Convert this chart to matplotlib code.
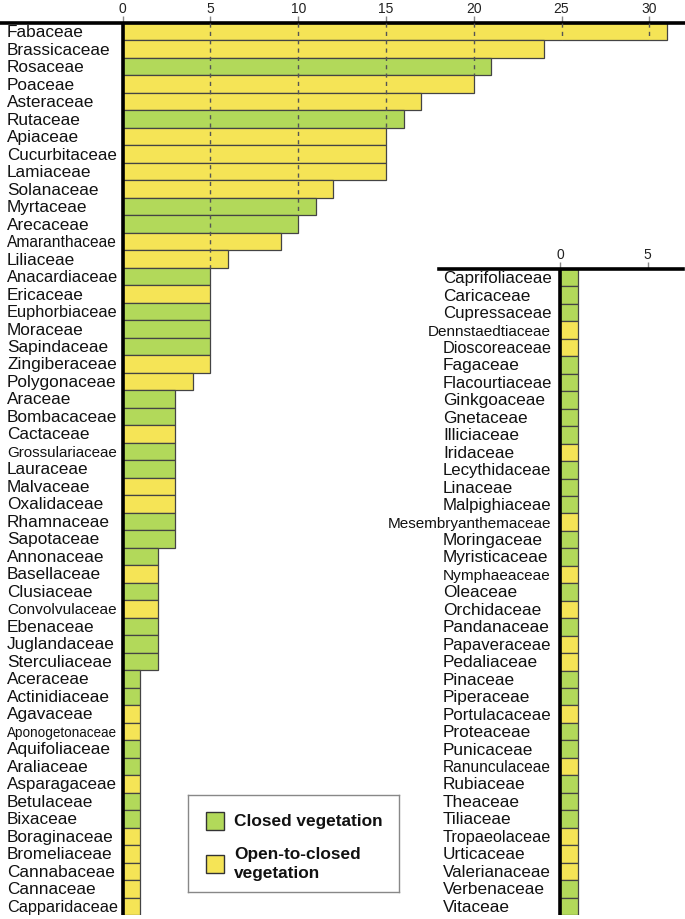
import matplotlib
matplotlib.use("Agg")
import matplotlib.pyplot as plt
from matplotlib.patches import Rectangle

plt.rcParams['font.family'] = ['Liberation Sans', 'DejaVu Sans']

# ---------------- data ----------------
left_families = [
    "Fabaceae", "Brassicaceae", "Rosaceae", "Poaceae", "Asteraceae", "Rutaceae",
    "Apiaceae", "Cucurbitaceae", "Lamiaceae", "Solanaceae", "Myrtaceae", "Arecaceae",
    "Amaranthaceae", "Liliaceae", "Anacardiaceae", "Ericaceae", "Euphorbiaceae",
    "Moraceae", "Sapindaceae", "Zingiberaceae", "Polygonaceae", "Araceae",
    "Bombacaceae", "Cactaceae", "Grossulariaceae", "Lauraceae", "Malvaceae",
    "Oxalidaceae", "Rhamnaceae", "Sapotaceae", "Annonaceae", "Basellaceae",
    "Clusiaceae", "Convolvulaceae", "Ebenaceae", "Juglandaceae", "Sterculiaceae",
    "Aceraceae", "Actinidiaceae", "Agavaceae", "Aponogetonaceae", "Aquifoliaceae",
    "Araliaceae", "Asparagaceae", "Betulaceae", "Bixaceae", "Boraginaceae",
    "Bromeliaceae", "Cannabaceae", "Cannaceae", "Capparidaceae",
]
left_counts = [
    31, 24, 21, 20, 17, 16, 15, 15, 15, 12, 11, 10, 9, 6,
    5, 5, 5, 5, 5, 5, 4,
    3, 3, 3, 3, 3, 3, 3, 3, 3,
    2, 2, 2, 2, 2, 2, 2,
    1, 1, 1, 1, 1, 1, 1, 1, 1, 1, 1, 1, 1, 1,
]
# C = closed vegetation, O = open-to-closed vegetation
left_types = [
    "O", "O", "C", "O", "O", "C", "O", "O", "O", "O", "C", "C", "O", "O",
    "C", "O", "C", "C", "C", "O", "O",
    "C", "C", "O", "C", "C", "O", "O", "C", "C",
    "C", "O", "C", "O", "C", "C", "C",
    "C", "C", "O", "O", "C", "C", "O", "C", "C", "O", "O", "O", "O", "O",
]

right_families = [
    "Caprifoliaceae", "Caricaceae", "Cupressaceae", "Dennstaedtiaceae",
    "Dioscoreaceae", "Fagaceae", "Flacourtiaceae", "Ginkgoaceae", "Gnetaceae",
    "Illiciaceae", "Iridaceae", "Lecythidaceae", "Linaceae", "Malpighiaceae",
    "Mesembryanthemaceae", "Moringaceae", "Myristicaceae", "Nymphaeaceae",
    "Oleaceae", "Orchidaceae", "Pandanaceae", "Papaveraceae", "Pedaliaceae",
    "Pinaceae", "Piperaceae", "Portulacaceae", "Proteaceae", "Punicaceae",
    "Ranunculaceae", "Rubiaceae", "Theaceae", "Tiliaceae", "Tropaeolaceae",
    "Urticaceae", "Valerianaceae", "Verbenaceae", "Vitaceae",
]
right_counts = [1] * 37
right_types = [
    "C", "C", "C", "O", "O", "C", "C", "C", "C", "C", "O", "C", "C", "C",
    "O", "C", "C", "O", "C", "O", "C", "O", "O", "C", "C", "O", "C", "C",
    "O", "C", "C", "C", "O", "O", "O", "C", "C",
]

left_ticks = [0, 5, 10, 15, 20, 25, 30]
right_ticks = [0, 5]
legend_labels = ["Closed vegetation", "Open-to-closed\nvegetation"]

# ---------------- style ----------------
GREEN = "#B2D95A"
YELLOW = "#F5E456"
EDGE = "#444444"
colmap = {"C": GREEN, "O": YELLOW}

W, H = 685, 919
fig = plt.figure(figsize=(W / 100, H / 100), dpi=100)
renderer = fig.canvas.get_renderer()

PX_PER_UNIT = 17.553
BASE_FS = 12.45  # pt


def make_axes(left_px, right_px, top_px, bottom_px, zero_px):
    ax = fig.add_axes([left_px / W, 1 - bottom_px / H,
                       (right_px - left_px) / W, (bottom_px - top_px) / H])
    ax.set_xlim(-(zero_px - left_px) / PX_PER_UNIT, (right_px - zero_px) / PX_PER_UNIT)
    return ax


def draw_panel(ax, fams, counts, types, ticks, label_x, max_w, right_align_x=None,
               grid=True):
    n = len(fams)
    ax.set_ylim(n - 0.5, -0.5)
    ax.barh(range(n), counts, height=1.0, color=[colmap[t] for t in types],
            edgecolor=EDGE, linewidth=0.9, zorder=2)
    # thick zero line
    ax.plot([0, 0], [-0.5, n - 0.5], color="black", lw=2.6, zorder=4,
            solid_capstyle="butt", clip_on=False)
    # dashed gridlines drawn over the bars only
    if grid:
        for t in ticks[1:]:
            k = 0
            while k < n and counts[k] > t:
                k += 1
            if k > 0:
                ax.plot([t, t], [-0.5, k - 0.5], color="#555555", lw=1.0,
                        ls=(0, (3, 3)), zorder=3)
    for s in ["left", "right", "bottom"]:
        ax.spines[s].set_visible(False)
    ax.spines["top"].set_linewidth(2.6)
    ax.spines["top"].set_color("black")
    ax.xaxis.tick_top()
    ax.set_xticks(ticks)
    ax.set_xticklabels([str(t) for t in ticks])
    ax.tick_params(axis="x", length=5.0, width=1.0, color="#888888", pad=0,
                   labelsize=10, labelcolor="#222222")
    ax.set_yticks([])
    ax.set_facecolor("none")

    px_per_pt = 100 / 72
    for i, name in enumerate(fams):
        txt = ax.text(label_x, i + 0.31, name, ha="left", va="baseline",
                      fontsize=BASE_FS, color="#111111")
        w = txt.get_window_extent(renderer=renderer).width
        if w > max_w:
            fs = BASE_FS * max_w / w
            if right_align_x is not None and fs * px_per_pt < 15.0:
                txt.set_fontsize(15.3 / px_per_pt)
                txt.set_x(right_align_x)
                txt.set_ha("right")
            else:
                txt.set_fontsize(fs)


# left panel
axL = make_axes(1, 684, 23, 915, 122.7)
draw_panel(axL, left_families, left_counts, left_types, left_ticks,
           label_x=(7 - 122.7) / PX_PER_UNIT, max_w=110)

# right inset panel
axR = make_axes(439, 683, 269, 915, 560)
draw_panel(axR, right_families, right_counts, right_types, right_ticks,
           label_x=(443 - 560) / PX_PER_UNIT, max_w=108,
           right_align_x=(551 - 560) / PX_PER_UNIT, grid=False)

# legend box
lx0, ly0, lx1, ly1 = 188, 795, 399, 892
axLeg = fig.add_axes([lx0 / W, 1 - ly1 / H, (lx1 - lx0) / W, (ly1 - ly0) / H])
axLeg.set_xlim(lx0, lx1)
axLeg.set_ylim(ly1, ly0)
axLeg.set_xticks([])
axLeg.set_yticks([])
for s in axLeg.spines.values():
    s.set_color("#888888")
    s.set_linewidth(1.0)
legend_colors = [GREEN, YELLOW]
legend_ys = [821, 864]
for lab, c, yc in zip(legend_labels, legend_colors, legend_ys):
    axLeg.add_patch(Rectangle((206, yc - 9), 18, 18, facecolor=c,
                              edgecolor="#333333", lw=1.0))
    axLeg.text(234, yc, lab, ha="left", va="center", fontsize=BASE_FS,
               fontweight="bold", color="#111111", linespacing=1.35)

fig.savefig("out.png", dpi=100)
